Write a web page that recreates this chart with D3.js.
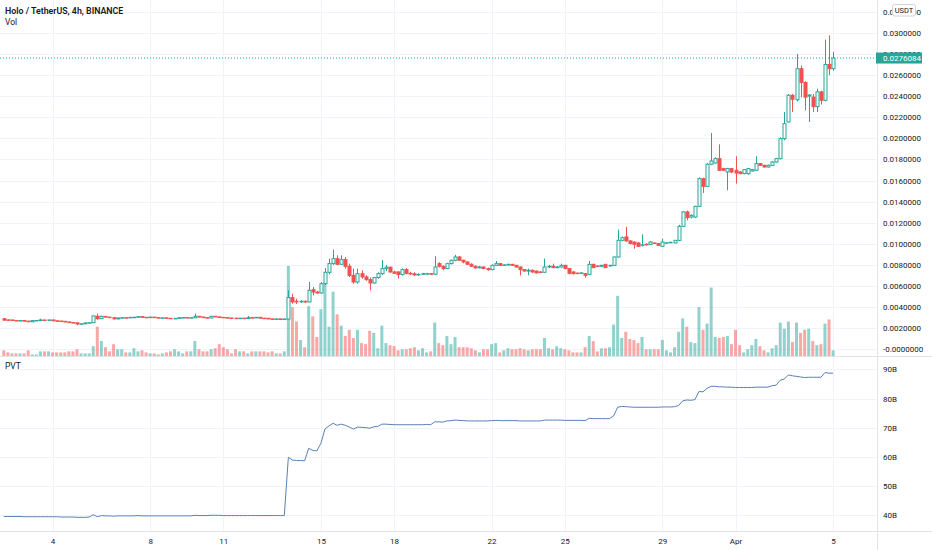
<!DOCTYPE html>
<html>
<head>
<meta charset="utf-8">
<script src="https://cdn.jsdelivr.net/npm/d3@7"></script>
<style>
body { margin: 0; background: #fff; }
svg { display: block; font-family: Roboto, "Liberation Sans", sans-serif; }
</style>
</head>
<body>
<script>
// HOT/USDT 4h candles, one value per bar, starting 2 Mar 00:00
var opens = [
  0.00290,0.00279,0.00278,0.00273,0.00271,0.00273,0.00267,0.00261,0.00272,0.00273,
  0.00278,0.00275,0.00278,0.00270,0.00268,0.00265,0.00259,0.00253,0.00251,0.00240,
  0.00242,0.00250,0.00252,0.00313,0.00290,0.00312,0.00305,0.00300,0.00288,0.00297,
  0.00300,0.00298,0.00303,0.00304,0.00310,0.00303,0.00302,0.00305,0.00300,0.00297,
  0.00298,0.00294,0.00291,0.00293,0.00300,0.00301,0.00298,0.00299,0.00313,0.00306,
  0.00300,0.00297,0.00313,0.00307,0.00303,0.00300,0.00297,0.00295,0.00293,
  0.00295,0.00291,0.00300,0.00298,0.00303,0.00295,0.00294,0.00288,0.00286,0.00288,
  0.00282,0.00287,0.00490,0.00455,0.00450,0.00455,0.00449,0.00565,0.00543,0.00534,
  0.00622,0.00730,0.00812,0.00859,0.00806,0.00850,0.00787,0.00701,0.00638,0.00717,
  0.00686,0.00660,0.00629,0.00680,0.00717,0.00765,0.00778,0.00733,0.00733,0.00708,
  0.00755,0.00720,0.00715,0.00705,0.00710,0.00717,0.00717,0.00712,0.00812,0.00787,
  0.00765,0.00812,0.00844,0.00875,0.00844,0.00828,0.00806,0.00787,0.00772,0.00780,
  0.00765,0.00755,0.00796,0.00812,0.00796,0.00800,0.00805,0.00796,0.00780,0.00755,
  0.00742,0.00749,0.00742,0.00733,0.00730,0.00780,0.00787,0.00774,0.00780,0.00796,
  0.00765,0.00733,0.00722,0.00720,0.00717,0.00711,0.00805,0.00790,0.00787,0.00805,
  0.00790,0.00796,0.00875,0.01033,0.01065,0.01027,0.01017,0.01008,0.00986,0.00995,
  0.00995,0.01008,0.01002,0.00976,0.01008,0.01012,0.01008,0.01033,0.01166,0.01302,
  0.01254,0.01254,0.01355,0.01618,0.01545,0.01754,0.01766,0.01807,0.01713,0.01681,
  0.01713,0.01697,0.01681,0.01665,0.01665,0.01690,0.01697,0.01760,0.01744,0.01728,
  0.01744,0.01775,0.01807,0.01997,0.02155,0.02408,0.02366,0.02660,0.02530,0.02400,
  0.02390,0.02300,0.02440,0.02360,0.02700,0.02660
];
var highs = [
  0.00295,0.00283,0.00281,0.00276,0.00276,0.00275,0.00269,0.00274,0.00276,0.00290,
  0.00280,0.00281,0.00280,0.00273,0.00270,0.00267,0.00262,0.00256,0.00253,0.00245,
  0.00253,0.00255,0.00320,0.00338,0.00318,0.00315,0.00308,0.00302,0.00300,0.00303,
  0.00302,0.00305,0.00306,0.00312,0.00311,0.00306,0.00308,0.00306,0.00302,0.00300,
  0.00300,0.00296,0.00295,0.00302,0.00303,0.00302,0.00301,0.00338,0.00315,0.00308,
  0.00302,0.00316,0.00316,0.00309,0.00305,0.00302,0.00299,0.00297,0.00297,
  0.00296,0.00316,0.00302,0.00305,0.00304,0.00298,0.00296,0.00290,0.00290,0.00290,
  0.00289,0.00559,0.00527,0.00480,0.00465,0.00462,0.00638,0.00590,0.00555,0.00638,
  0.00770,0.00859,0.00945,0.00891,0.00891,0.00875,0.00812,0.00765,0.00765,0.00749,
  0.00701,0.00680,0.00686,0.00730,0.00844,0.00800,0.00785,0.00745,0.00740,0.00765,
  0.00770,0.00735,0.00730,0.00720,0.00725,0.00725,0.00722,0.00882,0.00825,0.00795,
  0.00820,0.00850,0.00895,0.00885,0.00850,0.00835,0.00815,0.00795,0.00790,0.00785,
  0.00775,0.00805,0.00837,0.00815,0.00805,0.00812,0.00810,0.00800,0.00785,0.00760,
  0.00765,0.00755,0.00745,0.00740,0.00860,0.00800,0.00812,0.00790,0.00812,0.00800,
  0.00770,0.00740,0.00728,0.00730,0.00722,0.00837,0.00812,0.00795,0.00800,0.00810,
  0.00800,0.00880,0.01134,0.01070,0.01160,0.01035,0.01020,0.01015,0.01090,0.01005,
  0.01025,0.01012,0.01005,0.01049,0.01015,0.01020,0.01035,0.01180,0.01310,0.01315,
  0.01280,0.01360,0.01630,0.01625,0.01765,0.02050,0.01820,0.01943,0.01720,0.01720,
  0.01720,0.01830,0.01690,0.01705,0.01720,0.01710,0.01830,0.01765,0.01750,0.01750,
  0.01785,0.01815,0.02010,0.02250,0.02420,0.02420,0.02800,0.02690,0.02540,0.02420,
  0.02420,0.02470,0.02450,0.02935,0.02976,0.02820
];
var lows = [
  0.00274,0.00275,0.00271,0.00269,0.00268,0.00265,0.00259,0.00259,0.00268,0.00270,
  0.00272,0.00273,0.00268,0.00266,0.00263,0.00257,0.00251,0.00249,0.00227,0.00236,
  0.00240,0.00247,0.00250,0.00280,0.00288,0.00302,0.00298,0.00285,0.00286,0.00294,
  0.00296,0.00297,0.00300,0.00302,0.00301,0.00300,0.00300,0.00297,0.00296,0.00294,
  0.00292,0.00288,0.00289,0.00291,0.00298,0.00296,0.00295,0.00297,0.00303,0.00298,
  0.00294,0.00295,0.00305,0.00301,0.00298,0.00296,0.00292,0.00290,0.00291,
  0.00289,0.00290,0.00296,0.00297,0.00293,0.00291,0.00286,0.00283,0.00284,0.00280,
  0.00280,0.00285,0.00433,0.00430,0.00440,0.00440,0.00445,0.00512,0.00525,0.00527,
  0.00610,0.00710,0.00800,0.00796,0.00800,0.00765,0.00686,0.00622,0.00622,0.00670,
  0.00650,0.00559,0.00620,0.00670,0.00705,0.00740,0.00725,0.00715,0.00670,0.00700,
  0.00710,0.00705,0.00695,0.00698,0.00705,0.00708,0.00705,0.00705,0.00775,0.00750,
  0.00760,0.00805,0.00835,0.00840,0.00815,0.00800,0.00780,0.00765,0.00768,0.00760,
  0.00745,0.00750,0.00790,0.00790,0.00790,0.00795,0.00790,0.00775,0.00701,0.00735,
  0.00701,0.00725,0.00720,0.00725,0.00725,0.00770,0.00770,0.00768,0.00775,0.00760,
  0.00710,0.00710,0.00715,0.00715,0.00679,0.00705,0.00770,0.00780,0.00782,0.00770,
  0.00785,0.00790,0.00870,0.01025,0.01020,0.00995,0.00954,0.00970,0.00975,0.00985,
  0.00990,0.01000,0.00980,0.00972,0.01002,0.01008,0.01005,0.01027,0.01160,0.01223,
  0.01240,0.01245,0.01350,0.01482,0.01540,0.01745,0.01760,0.01690,0.01690,0.01507,
  0.01670,0.01571,0.01660,0.01660,0.01655,0.01685,0.01690,0.01740,0.01725,0.01722,
  0.01738,0.01770,0.01800,0.01981,0.02150,0.02250,0.02350,0.02390,0.02265,0.02155,
  0.02250,0.02250,0.02320,0.02350,0.02597,0.02640
];
var closes = [
  0.00276,0.00277,0.00273,0.00271,0.00273,0.00267,0.00261,0.00272,0.00273,0.00278,
  0.00275,0.00278,0.00270,0.00268,0.00265,0.00259,0.00253,0.00251,0.00240,0.00242,
  0.00250,0.00252,0.00316,0.00290,0.00313,0.00305,0.00300,0.00288,0.00297,0.00300,
  0.00298,0.00303,0.00304,0.00310,0.00303,0.00302,0.00305,0.00300,0.00297,0.00298,
  0.00294,0.00291,0.00293,0.00300,0.00301,0.00298,0.00299,0.00313,0.00306,0.00300,
  0.00297,0.00313,0.00307,0.00303,0.00300,0.00298,0.00295,0.00293,0.00295,
  0.00291,0.00300,0.00298,0.00303,0.00295,0.00294,0.00288,0.00286,0.00288,0.00282,
  0.00287,0.00490,0.00449,0.00450,0.00455,0.00449,0.00559,0.00543,0.00534,0.00622,
  0.00730,0.00812,0.00859,0.00806,0.00850,0.00787,0.00701,0.00638,0.00717,0.00686,
  0.00660,0.00629,0.00680,0.00717,0.00765,0.00778,0.00733,0.00720,0.00708,0.00755,
  0.00720,0.00715,0.00705,0.00710,0.00717,0.00717,0.00712,0.00780,0.00787,0.00765,
  0.00812,0.00844,0.00875,0.00844,0.00828,0.00806,0.00787,0.00772,0.00780,0.00765,
  0.00755,0.00796,0.00812,0.00796,0.00800,0.00805,0.00796,0.00780,0.00755,0.00742,
  0.00749,0.00733,0.00724,0.00730,0.00780,0.00787,0.00774,0.00780,0.00796,0.00765,
  0.00720,0.00717,0.00720,0.00724,0.00701,0.00805,0.00774,0.00787,0.00796,0.00774,
  0.00796,0.00875,0.01033,0.01058,0.01027,0.01002,0.00995,0.00976,0.00990,0.00990,
  0.01017,0.01005,0.00986,0.01017,0.01010,0.01014,0.01033,0.01166,0.01302,0.01248,
  0.01270,0.01355,0.01618,0.01545,0.01754,0.01785,0.01807,0.01697,0.01697,0.01713,
  0.01681,0.01671,0.01665,0.01703,0.01713,0.01703,0.01760,0.01744,0.01728,0.01744,
  0.01775,0.01807,0.01997,0.02139,0.02408,0.02370,0.02660,0.02530,0.02390,0.02410,
  0.02300,0.02440,0.02360,0.02700,0.02660,0.0276084
];
// volume, hundreds of millions HOT
var volumes = [
  6,4,3,3,3,3,6,2,2,5,
  5,5,4,4,4,4,5,5,7,3,
  3,3,10,29,15,9,5,12,7,7,
  4,4,8,5,6,4,3,3,2,3,
  4,5,7,5,3,5,5,15,7,5,
  5,7,8,12,9,7,3,7,5,
  5,3,5,5,5,5,4,5,3,3,
  5,88,48,34,16,9,49,39,19,46,
  73,29,63,41,30,20,26,18,26,13,
  12,25,23,8,30,13,11,10,6,7,
  7,8,9,6,8,4,5,33,13,11,
  20,12,19,9,9,9,8,6,4,7,
  7,12,13,4,6,8,7,7,8,7,
  6,7,7,7,18,8,7,10,8,7,
  6,4,4,4,9,20,15,5,8,8,
  9,31,59,18,24,17,16,13,19,7,
  7,7,7,16,6,4,9,24,37,29,
  14,13,48,26,32,67,19,18,19,20,
  12,26,11,4,7,11,17,10,6,4,
  8,11,33,27,34,14,33,23,26,27,
  15,11,12,32,36,6
];
// price volume trend, in billions
var pvt = [
  39.5,39.5,39.5,39.5,39.5,39.4,39.4,39.4,39.4,39.4,
  39.4,39.4,39.4,39.4,39.3,39.3,39.3,39.3,39.2,39.2,
  39.2,39.3,40.1,39.4,39.8,39.7,39.7,39.6,39.7,39.7,
  39.7,39.7,39.7,39.8,39.7,39.7,39.7,39.7,39.7,39.7,
  39.7,39.7,39.7,39.7,39.7,39.7,39.7,39.9,39.8,39.8,
  39.8,39.9,39.9,39.9,39.8,39.8,39.8,39.8,39.8,
  39.8,39.8,39.8,39.8,39.8,39.8,39.8,39.8,39.8,39.8,
  39.8,59.8,58.9,58.7,58.7,58.6,62.9,62.2,62.0,64.6,
  69.5,70.6,71.5,70.8,71.2,70.8,70.2,69.5,70.2,70.1,
  70.0,69.8,70.3,70.4,71.2,71.2,71.1,71.0,71.0,71.0,
  71.0,71.0,71.0,71.0,71.0,71.1,71.0,72.0,72.0,71.9,
  72.3,72.4,72.6,72.5,72.4,72.3,72.3,72.3,72.3,72.3,
  72.3,72.4,72.5,72.4,72.4,72.4,72.4,72.4,72.3,72.3,
  72.3,72.3,72.3,72.3,72.6,72.6,72.6,72.6,72.6,72.5,
  72.5,72.5,72.5,72.5,72.4,73.2,73.1,73.1,73.1,73.1,
  73.1,74.0,77.0,77.3,77.2,77.1,77.0,77.0,77.0,77.0,
  77.0,77.0,77.0,77.1,77.1,77.1,77.2,77.6,79.2,79.5,
  79.4,79.6,82.4,82.3,83.5,84.2,84.2,84.0,84.0,83.9,
  83.9,83.8,83.8,83.8,83.8,83.8,83.9,83.9,83.9,83.9,
  84.4,84.6,86.3,86.7,88.1,87.8,87.6,87.4,87.2,87.3,
  87.3,87.3,87.3,88.9,88.7,88.7
];
var priceTicks = [0,0.002,0.004,0.006,0.008,0.010,0.012,0.014,0.016,0.018,0.020,0.022,0.024,0.026,0.028,0.030,0.032];
var pvtTicks = [40,50,60,70,80,90];
var dateTicks = ["2021-03-04","2021-03-08","2021-03-11","2021-03-15","2021-03-18",
                 "2021-03-22","2021-03-25","2021-03-29","2021-04-01","2021-04-05"];

var width = 932, height = 550;
var paneRight = 877;
var mainBottom = 356.5;
var pvtBottom = 531.5;
var upColor = "#26a69a", downColor = "#ef5350";
var gridColor = "#f0f3fa", borderColor = "#e0e3eb", textColor = "#131722";

var svg = d3.select("body")
  .append("svg")
  .attr("width", width)
  .attr("height", height);

var start = Date.UTC(2021, 2, 2, 0);
var step = 4 * 3600 * 1000;
var times = closes.map(function(d, i) { return new Date(start + i * step); });
var parseDay = d3.utcParse("%Y-%m-%d");
var tickDates = dateTicks.map(parseDay);

var x = d3.scaleTime()
  .domain([new Date(start), new Date(start + 214.8 * step)])
  .range([3.8, paneRight]);

var y = d3.scaleLinear()
  .domain([0, 0.03])
  .range([349.3, 32.8]);

var yVol = d3.scaleLinear()
  .domain([0, d3.max(volumes)])
  .range([mainBottom, 266]);

var yPvt = d3.scaleLinear()
  .domain([40, 90])
  .range([515, 369.4]);

// grid
var grid = svg.append("g");
grid.selectAll(".vg")
  .data(tickDates)
  .enter().append("line")
    .attr("x1", function(d) { return Math.round(x(d)) + 0.5; })
    .attr("x2", function(d) { return Math.round(x(d)) + 0.5; })
    .attr("y1", 0)
    .attr("y2", pvtBottom)
    .attr("stroke", gridColor);
grid.selectAll(".hg")
  .data(priceTicks)
  .enter().append("line")
    .attr("x1", 0).attr("x2", paneRight)
    .attr("y1", function(d) { return Math.round(y(d)) + 0.5; })
    .attr("y2", function(d) { return Math.round(y(d)) + 0.5; })
    .attr("stroke", gridColor);
grid.selectAll(".pg")
  .data(pvtTicks)
  .enter().append("line")
    .attr("x1", 0).attr("x2", paneRight)
    .attr("y1", function(d) { return Math.round(yPvt(d)) + 0.5; })
    .attr("y2", function(d) { return Math.round(yPvt(d)) + 0.5; })
    .attr("stroke", gridColor);

var bars = closes.map(function(c, i) {
  return {t: times[i], o: opens[i], h: highs[i], l: lows[i], c: c, v: volumes[i], up: c >= opens[i]};
});

// volume
svg.append("g").selectAll("rect")
  .data(bars)
  .enter().append("rect")
    .attr("x", function(d) { return x(d.t) - 1.5; })
    .attr("y", function(d) { return yVol(d.v); })
    .attr("width", 3)
    .attr("height", function(d) { return mainBottom - yVol(d.v); })
    .attr("fill", function(d) { return d.up ? "rgba(38,166,154,0.5)" : "rgba(239,83,80,0.5)"; });

// candles
var candle = svg.append("g").selectAll("g")
  .data(bars)
  .enter().append("g");
candle.append("line")
  .attr("x1", function(d) { return Math.round(x(d.t)) + 0.5; })
  .attr("x2", function(d) { return Math.round(x(d.t)) + 0.5; })
  .attr("y1", function(d) { return y(d.h); })
  .attr("y2", function(d) { return y(d.l); })
  .attr("stroke", function(d) { return d.up ? upColor : downColor; });
candle.append("rect")
  .attr("x", function(d) { return Math.round(x(d.t)) - 1; })
  .attr("y", function(d) { return y(Math.max(d.o, d.c)); })
  .attr("width", 3)
  .attr("height", function(d) { return Math.max(0.5, Math.abs(y(d.o) - y(d.c))); })
  .attr("fill", function(d) { return d.up ? "#ffffff" : downColor; })
  .attr("stroke", function(d) { return d.up ? upColor : downColor; })
  .attr("stroke-width", 1);

// pvt line
svg.append("path")
  .datum(bars)
  .attr("fill", "none")
  .attr("stroke", "#5b7fb5")
  .attr("stroke-width", 1)
  .attr("d", d3.line()
    .x(function(d) { return x(d.t); })
    .y(function(d, i) { return yPvt(pvt[i]); }));

// last price line
var last = closes[closes.length - 1];
svg.append("line")
  .attr("x1", 0).attr("x2", paneRight)
  .attr("y1", y(last)).attr("y2", y(last))
  .attr("stroke", upColor)
  .attr("stroke-dasharray", "1,2");

// borders
svg.append("line").attr("x1", 0).attr("x2", width).attr("y1", mainBottom).attr("y2", mainBottom).attr("stroke", borderColor);
svg.append("line").attr("x1", 0).attr("x2", width).attr("y1", pvtBottom).attr("y2", pvtBottom).attr("stroke", borderColor);
svg.append("line").attr("x1", paneRight + 0.5).attr("x2", paneRight + 0.5).attr("y1", 0).attr("y2", height).attr("stroke", borderColor);

// axes
var priceAxis = svg.append("g")
  .attr("transform", "translate(" + paneRight + ",0)")
  .call(d3.axisRight(y).tickValues(priceTicks).tickSize(0).tickPadding(6)
    .tickFormat(function(d) { return d === 0 ? "-0.0000000" : d3.format(".7f")(d); }));
var pvtAxis = svg.append("g")
  .attr("transform", "translate(" + paneRight + ",0)")
  .call(d3.axisRight(yPvt).tickValues(pvtTicks).tickSize(0).tickPadding(6)
    .tickFormat(function(d) { return d + "B"; }));
var timeAxis = svg.append("g")
  .attr("transform", "translate(0," + pvtBottom + ")")
  .call(d3.axisBottom(x).tickValues(tickDates).tickSize(0).tickPadding(7)
    .tickFormat(function(d) { return d.getUTCDate() === 1 ? d3.utcFormat("%b")(d) : d3.utcFormat("%-d")(d); }));
[priceAxis, pvtAxis, timeAxis].forEach(function(a) {
  a.select(".domain").remove();
  a.selectAll("text").attr("fill", textColor).attr("font-size", 8).attr("font-family", "Roboto, sans-serif");
});

// last price label
svg.append("rect")
  .attr("x", paneRight - 1).attr("y", y(last) - 5.5)
  .attr("width", 46).attr("height", 11)
  .attr("fill", upColor);
svg.append("text")
  .attr("x", paneRight + 6).attr("y", y(last))
  .attr("dy", "0.34em")
  .attr("font-size", 8)
  .attr("fill", "#ffffff")
  .text(d3.format(".7f")(last));

// currency badge
svg.append("rect")
  .attr("x", 892.5).attr("y", 4.5).attr("width", 23).attr("height", 11.5)
  .attr("rx", 2).attr("fill", "#ffffff").attr("stroke", "#d1d4dc");
svg.append("text")
  .attr("x", 904).attr("y", 10.3).attr("dy", "0.34em")
  .attr("text-anchor", "middle").attr("font-size", 7.5).attr("fill", textColor)
  .text("USDT");

// legends
svg.append("text").attr("x", 5).attr("y", 13.5)
  .attr("font-size", 8.8).attr("font-weight", 600).attr("fill", textColor)
  .text("Holo / TetherUS, 4h, BINANCE");
svg.append("text").attr("x", 5).attr("y", 24.5)
  .attr("font-size", 8.5).attr("fill", textColor)
  .text("Vol");
svg.append("text").attr("x", 5).attr("y", 368.5)
  .attr("font-size", 8.5).attr("fill", textColor)
  .text("PVT");
</script>
</body>
</html>
